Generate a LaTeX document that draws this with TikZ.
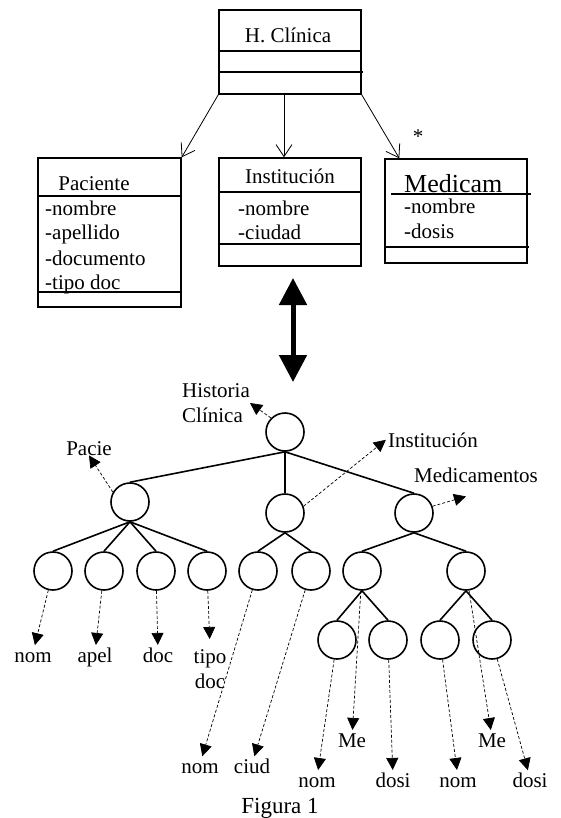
\documentclass[tikz,border=0pt]{standalone}
\usepackage{fontspec}
\setmainfont{Liberation Serif}
\usetikzlibrary{arrows.meta}

\begin{document}
\begin{tikzpicture}[x=1pt, y=-1pt,
    font=\fontsize{21}{25}\selectfont,
    clase/.style={draw, line width=1.4pt, inner sep=0pt, minimum width=142pt},
    hoja/.style={draw, circle, line width=1.6pt, minimum size=38pt, inner sep=0pt},
    rama/.style={line width=1.6pt},
    asoc/.style={line width=0.8pt, -{Straight Barb[length=12pt,width=16pt]}},
    punt/.style={densely dashed, line width=0.7pt, -{Triangle[length=12pt,width=12pt]}},
    etq/.style={anchor=base, inner sep=2pt, text height=1.5ex, text depth=.25ex}]
    \useasboundingbox (0,0) rectangle (560,818);

    % Diagrama de clases
    \node[clase, minimum height=84pt] (hc) at (290,52) {};
    \node[anchor=base, inner sep=0pt] (thc) at (288,43) {H. Clínica};
    \draw[line width=1.4pt] (219,51) -- (361,51);
    \draw[line width=1.4pt] (219,72) -- (363,72);

    \node[clase, minimum width=143pt, minimum height=149pt] (pac) at (109.5,232.5) {};
    \node[anchor=base, inner sep=0pt] (tpac) at (94,191) {Paciente};
    \draw[line width=1.4pt] (38,196) -- (181,196);
    \node[anchor=base west, inner sep=0pt] (pa1) at (45,215) {-nombre};
    \node[anchor=base west, inner sep=0pt] (pa2) at (45,240) {-apellido};
    \node[anchor=base west, inner sep=0pt] (pa3) at (45,265) {-documento};
    \node[anchor=base west, inner sep=0pt] (pa4) at (45,289) {-tipo doc};
    \draw[line width=1.4pt] (38,292) -- (181,292);

    \node[clase, minimum height=108pt] (inst) at (290,212) {};
    \node[anchor=base, inner sep=0pt] (tinst) at (290,184) {Institución};
    \draw[line width=1.4pt] (219,192) -- (361,192);
    \node[anchor=base west, inner sep=0pt] (ia1) at (238,215) {-nombre};
    \node[anchor=base west, inner sep=0pt] (ia2) at (238,239) {-ciudad};
    \draw[line width=1.4pt] (219,244) -- (361,244);

    \node[clase, minimum height=104pt] (med) at (456,211) {};
    \node[anchor=base west, inner sep=0pt, font=\fontsize{26}{30}\selectfont] (tmed) at (404,193) {Medicam};
    \draw[line width=1.4pt] (391,194) -- (531,194);
    \node[anchor=base west, inner sep=0pt] (ma1) at (404,214) {-nombre};
    \node[anchor=base west, inner sep=0pt] (ma2) at (404,238) {-dosis};
    \draw[line width=1.4pt] (385,247) -- (529,247);
    \node[inner sep=0pt, font=\fontsize{21}{25}\selectfont] (ast) at (418,137) {*};

    \draw[asoc] (hc.south west) -- (pac.north east);
    \draw[asoc] ([xshift=-6pt]hc.south) -- ([xshift=-6pt]inst.north);
    \draw[asoc] (hc.south east) -- ([xshift=15pt]med.north west);

    % Flecha doble
    \coordinate (fa) at (293,278);
    \coordinate (fb) at (293,382);
    \draw[line width=5pt, {Triangle[length=27pt,width=27pt]}-{Triangle[length=27pt,width=27pt]}] (fa) -- (fb);

    % Arbol
    \node[hoja] (r) at (285,432) {};
    \node[hoja] (tp) at (130,502) {};
    \node[hoja] (ti) at (285,513) {};
    \node[hoja] (tm) at (414,513) {};
    \node[hoja] (tp1) at (53,571) {};
    \node[hoja] (tp2) at (104,571) {};
    \node[hoja] (tp3) at (156,571) {};
    \node[hoja] (tp4) at (207,571) {};
    \node[hoja] (ti1) at (258,571) {};
    \node[hoja] (ti2) at (311,571) {};
    \node[hoja] (tm1) at (362,571) {};
    \node[hoja] (tm2) at (466,571) {};
    \node[hoja] (tm11) at (337,640) {};
    \node[hoja] (tm12) at (388,640) {};
    \node[hoja] (tm21) at (440,640) {};
    \node[hoja] (tm22) at (492,640) {};

    \foreach \a/\b in {r/tp, r/ti, r/tm, tp/tp1, tp/tp2, tp/tp3, tp/tp4,
                       ti/ti1, ti/ti2, tm/tm1, tm/tm2,
                       tm1/tm11, tm1/tm12, tm2/tm21, tm2/tm22}
        \draw[rama] (\a.south) -- (\b.north);

    % Etiquetas
    \node[align=left, inner sep=0pt] (lhc) at (216,403) {Historia\\Clínica};
    \node[anchor=base, inner sep=0pt] (lpac) at (89,455) {Pacie};
    \node[anchor=base, inner sep=2pt] (linst) at (433,447) {Institución};
    \node[anchor=base, inner sep=2pt] (lmed) at (476,482) {Medicamentos};
    \node[etq] (lnom1) at (33,662) {nom};
    \node[etq] (lapel) at (95,662) {apel};
    \node[etq] (ldoc) at (158,662) {doc};
    \node[anchor=north, align=center, inner sep=2pt] (ltipo) at (210,647) {tipo\\doc};
    \node[etq] (lnom2) at (200,773) {nom};
    \node[etq] (lciud) at (252,773) {ciud};
    \node[etq] (lme1) at (352,747) {Me};
    \node[etq] (lnom3) at (317,787) {nom};
    \node[etq] (ldosi1) at (393,787) {dosi};
    \node[etq] (lnom4) at (458,787) {nom};
    \node[etq] (lme2) at (492,747) {Me};
    \node[etq] (ldosi2) at (530,787) {dosi};

    \draw[punt] (r.135) -- (lhc.east);
    \draw[punt] (tp.150) -- (lpac.south);
    \draw[punt] (ti.20) -- (linst.west);
    \draw[punt] (tm.20) -- ([xshift=-10pt,yshift=-12pt]lmed.south);
    \foreach \a/\b in {tp1/lnom1, tp2/lapel, tp3/ldoc, tp4/ltipo, ti1/lnom2, ti2/lciud,
                       tm1/lme1, tm11/lnom3, tm12/ldosi1, tm21/lnom4, tm2/lme2, tm22/ldosi2}
        \draw[punt, shorten >=8pt] (\a) -- (\b.north);

    \node[anchor=base, font=\fontsize{23}{27}\selectfont] (fig) at (280,813) {Figura 1};
\end{tikzpicture}
\end{document}
